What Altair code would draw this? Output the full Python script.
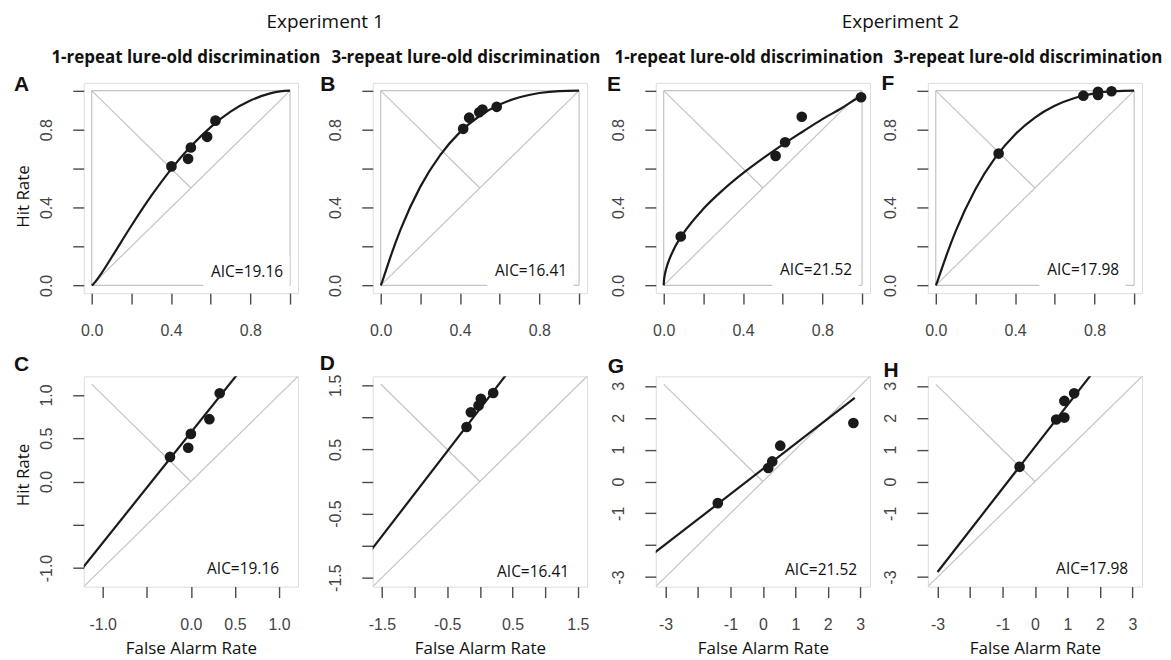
import altair as alt
import pandas as pd

# ---------------- data ----------------
# Top row: ROC in probability space (False Alarm Rate, Hit Rate)
A_fa = [0.402, 0.486, 0.500, 0.582, 0.624]
A_hit = [0.611, 0.650, 0.708, 0.763, 0.846]
A_curve_fa = [0.0, 0.005, 0.01, 0.02, 0.05, 0.10, 0.20, 0.30, 0.40, 0.50, 0.60, 0.70, 0.80, 0.90, 0.95, 1.0]
A_curve_hit = [0.0, 0.003, 0.008, 0.020, 0.063, 0.143, 0.306, 0.459, 0.596, 0.714, 0.813, 0.892, 0.949, 0.986, 0.996, 1.0]

B_fa = [0.416, 0.446, 0.497, 0.513, 0.585]
B_hit = [0.804, 0.861, 0.889, 0.903, 0.917]
B_curve_fa = [0.0, 0.001, 0.005, 0.01, 0.02, 0.05, 0.10, 0.20, 0.30, 0.40, 0.50, 0.60, 0.70, 0.80, 0.90, 1.0]
B_curve_hit = [0.0, 0.0015, 0.011, 0.026, 0.056, 0.148, 0.286, 0.507, 0.669, 0.787, 0.871, 0.929, 0.966, 0.988, 0.998, 1.0]

E_fa = [0.086, 0.564, 0.612, 0.696, 0.995]
E_hit = [0.251, 0.665, 0.735, 0.866, 0.966]
E_curve_fa = [0.0, 0.001, 0.005, 0.01, 0.02, 0.05, 0.10, 0.20, 0.30, 0.40, 0.50, 0.60, 0.70, 0.80, 0.90, 0.95, 0.998]
E_curve_hit = [0.0, 0.020, 0.051, 0.075, 0.110, 0.183, 0.268, 0.393, 0.491, 0.576, 0.652, 0.723, 0.789, 0.854, 0.912, 0.945, 0.975]

F_fa = [0.317, 0.744, 0.818, 0.818, 0.886]
F_hit = [0.677, 0.974, 0.978, 0.994, 0.997]
F_curve_fa = [0.0, 0.001, 0.005, 0.01, 0.02, 0.05, 0.10, 0.20, 0.30, 0.40, 0.50, 0.60, 0.70, 0.80, 0.90, 1.0]
F_curve_hit = [0.0, 0.0015, 0.011, 0.025, 0.055, 0.143, 0.277, 0.494, 0.656, 0.775, 0.862, 0.922, 0.962, 0.986, 0.997, 1.0]

# Bottom row: z-ROC
C_zfa = [-0.237, -0.030, 0.000, 0.210, 0.327]
C_zhit = [0.284, 0.390, 0.550, 0.720, 1.020]
C_line_zfa = [-1.40, 0.60]
C_line_zhit = [-1.219, 1.331]

D_zfa = [-0.204, -0.138, -0.020, 0.015, 0.204]
D_zhit = [0.850, 1.080, 1.185, 1.290, 1.380]
D_line_zfa = [-1.80, 0.50]
D_line_zhit = [-1.251, 1.794]

G_zfa = [-1.389, 0.165, 0.288, 0.535, 2.788]
G_zhit = [-0.680, 0.423, 0.629, 1.124, 1.835]
G_line_zfa = [-3.50, 2.83]
G_line_zhit = [-2.367, 2.621]

H_zfa = [-0.473, 0.655, 0.906, 0.906, 1.208]
H_zhit = [0.461, 1.946, 2.006, 2.528, 2.768]
H_line_zfa = [-3.00, 1.90]
H_line_zhit = [-2.840, 3.574]

AIC = {"A": "AIC=19.16", "B": "AIC=16.41", "E": "AIC=21.52", "F": "AIC=17.98",
       "C": "AIC=19.16", "D": "AIC=16.41", "G": "AIC=21.52", "H": "AIC=17.98"}

panel_titles = ["1-repeat lure-old discrimination", "3-repeat lure-old discrimination"]
experiment_titles = ["Experiment 1", "Experiment 2"]

top_ticks = [0.0, 0.2, 0.4, 0.6, 0.8, 1.0]
top_labels = [0.0, 0.4, 0.8]
C_ticks = [-1.0, -0.5, 0.0, 0.5, 1.0]
C_labels = [-1.0, 0.0, 0.5, 1.0]
D_ticks = [-1.5, -1.0, -0.5, 0.0, 0.5, 1.0, 1.5]
D_labels = [-1.5, -0.5, 0.5, 1.5]
GH_ticks = [-3, -2, -1, 0, 1, 2, 3]
GH_labels = [-3, -1, 0, 1, 2, 3]

# ---------------- styling ----------------
W, H = 215, 211
INK = "#1a1a1a"
REF = "#c4c4c4"
TXT_FONT = "Open Sans"
NUM_FONT = "Liberation Sans"


def axis(ticks, shown, fmt, orient, title=None, title_dy=0):
    expr = ("indexof(%s, datum.value) >= 0 ? replace(format(datum.value, '%s'), '\u2212', '-') : ''"
            % (str(list(shown)), fmt))
    kw = dict(values=list(ticks), labelExpr=expr, domain=False, grid=False,
              tickColor="#4a4a4a", tickSize=11, tickWidth=1.4,
              labelFont=NUM_FONT, labelFontSize=16, labelColor="#444",
              labelFlush=False, labelOverlap=False)
    if orient == "left":
        kw.update(labelAngle=270, labelAlign="center", labelBaseline="bottom", labelPadding=18)
    else:
        kw.update(labelPadding=19)
    if title:
        kw.update(title=title, titleFont=TXT_FONT, titleFontSize=17, titleFontWeight="normal",
                  titleColor="#111")
        if orient == "left":
            kw.update(titleX=-60, titleY=H / 2 + title_dy, titleAlign="center", titleBaseline="middle",
                      titleAngle=270)
        else:
            kw.update(titleX=W / 2, titleY=67, titleAlign="center", titleBaseline="alphabetic")
    else:
        kw.update(title=None)
    return alt.Axis(**kw)


def panel(letter, px, py, cx, cy, lo, hi, segs, xticks, xlab, yticks, ylab, fmt,
          letter_pos, aic_off, ytitle=None, ytitle_dy=0, xtitle=None, title=None, title_dx=0,
          clip_line=False, interp="linear"):
    xa = axis(xticks, xlab, fmt, "bottom", xtitle)
    ya = axis(yticks, ylab, fmt, "left", ytitle, title_dy=ytitle_dy)
    xs = alt.Scale(domain=[lo, hi], nice=False, zero=False)
    ys = alt.Scale(domain=[lo, hi], nice=False, zero=False)

    seg_df = pd.DataFrame(segs, columns=["x", "y", "x2", "y2"])
    ref = alt.Chart(seg_df).mark_rule(color=REF, strokeWidth=1.2, clip=True).encode(
        x=alt.X("x:Q", scale=xs, axis=xa), y=alt.Y("y:Q", scale=ys, axis=ya),
        x2="x2:Q", y2="y2:Q")

    dx, dy = aic_off
    box = alt.Chart(pd.DataFrame({"k": [0]})).mark_rect(color="white").encode(
        x=alt.value(W - dx - 80), x2=alt.value(W - dx + 6.5),
        y=alt.value(H - dy - 22), y2=alt.value(H - 3))

    curve_df = pd.DataFrame({"x": cx, "y": cy, "o": list(range(len(cx)))})
    curve = alt.Chart(curve_df).mark_line(color=INK, strokeWidth=2.2, clip=clip_line,
                                          interpolate=interp).encode(
        x=alt.X("x:Q", scale=xs, axis=xa), y=alt.Y("y:Q", scale=ys, axis=ya), order="o:Q")

    pts = alt.Chart(pd.DataFrame({"x": px, "y": py})).mark_circle(
        color=INK, opacity=1, size=115).encode(
        x=alt.X("x:Q", scale=xs, axis=xa), y=alt.Y("y:Q", scale=ys, axis=ya))

    aic = alt.Chart(pd.DataFrame({"t": [AIC[letter]]})).mark_text(
        font=TXT_FONT, fontSize=15.5, color="#111", align="right", baseline="alphabetic").encode(
        text="t:N", x=alt.value(W - dx), y=alt.value(H - dy))

    lab = alt.Chart(pd.DataFrame({"t": [letter]})).mark_text(
        font=NUM_FONT, fontSize=21, fontWeight="bold", color="#111", align="center",
        baseline="alphabetic").encode(
        text="t:N", x=alt.value(letter_pos[0]), y=alt.value(letter_pos[1]))

    layers = [ref, box, curve, pts, aic, lab]
    if title:
        ttl = alt.Chart(pd.DataFrame({"t": [title]})).mark_text(
            font=TXT_FONT, fontSize=17, fontWeight="bold", color="#111", align="center",
            baseline="alphabetic").encode(
            text="t:N", x=alt.value(W / 2 + title_dx), y=alt.value(-20.3))
        layers.append(ttl)
    return alt.layer(*layers).properties(width=W, height=H)


def spacer(w, title=None, dx=0):
    props = dict(width=w, height=H, view=alt.ViewBackground(stroke="transparent"))
    if title:
        return alt.Chart(pd.DataFrame({"t": [title]})).mark_text(
            font=TXT_FONT, fontSize=19, fontWeight="normal", color="#111", align="center",
            baseline="alphabetic").encode(
            text="t:N", x=alt.value(w / 2 + dx), y=alt.value(-55.3)).properties(**props)
    return alt.Chart(pd.DataFrame({"k": [0]})).mark_point(opacity=0).encode(
        x=alt.value(0), y=alt.value(0)).properties(**props)


def top_segs():
    return [[0, 0, 1, 1], [0, 1, 0.5, 0.5], [0, 0, 1, 0], [1, 0, 1, 1], [1, 1, 0, 1], [0, 1, 0, 0]]


def z_segs(lim, L):
    return [[-lim, -lim, lim, lim], [-L, L, 0, 0]]


TLO, THI = -0.04, 1.04

pA = panel("A", A_fa, A_hit, A_curve_fa, A_curve_hit, TLO, THI, top_segs(),
           top_ticks, top_labels, top_ticks, top_labels, ".1f", (-62.5, 8), (15, 16),
           ytitle="Hit Rate", ytitle_dy=8, title=panel_titles[0], title_dx=-5, interp="monotone")
pB = panel("B", B_fa, B_hit, B_curve_fa, B_curve_hit, TLO, THI, top_segs(),
           top_ticks, top_labels, top_ticks, top_labels, ".1f", (-45, 7.8), (20, 17),
           title=panel_titles[1], title_dx=-14, interp="monotone")
pE = panel("E", E_fa, E_hit, E_curve_fa, E_curve_hit, TLO, THI, top_segs(),
           top_ticks, top_labels, top_ticks, top_labels, ".1f", (-42, 7.7), (18, 18),
           title=panel_titles[0], title_dx=-14, interp="monotone")
pF = panel("F", F_fa, F_hit, F_curve_fa, F_curve_hit, TLO, THI, top_segs(),
           top_ticks, top_labels, top_ticks, top_labels, ".1f", (-40, 7.3), (23, 18),
           title=panel_titles[1], title_dx=-7, interp="monotone")

pC = panel("C", C_zfa, C_zhit, C_line_zfa, C_line_zhit, -1.215, 1.215, z_segs(1.215, 1.125),
           C_ticks, C_labels, C_ticks, C_labels, ".1f", (-62.4, -5.5), (19, 13),
           ytitle="Hit Rate", ytitle_dy=-7, xtitle="False Alarm Rate", clip_line=True)
pD = panel("D", D_zfa, D_zhit, D_line_zfa, D_line_zhit, -1.64, 1.64, z_segs(1.64, 1.52),
           D_ticks, D_labels, D_ticks, D_labels, ".1f", (-45.5, -6.8), (18, 10),
           xtitle="False Alarm Rate", clip_line=True)
pG = panel("G", G_zfa, G_zhit, G_line_zfa, G_line_zhit, -3.3, 3.3, z_segs(3.3, 3.05),
           GH_ticks, GH_labels, GH_ticks, GH_labels, "d", (-40, -3.5), (13, 12),
           xtitle="False Alarm Rate", clip_line=True)
pH = panel("H", H_zfa, H_zhit, H_line_zfa, H_line_zhit, -3.3, 3.3, z_segs(3.3, 3.05),
           GH_ticks, GH_labels, GH_ticks, GH_labels, "d", (-37, 0.9), (14, 13),
           xtitle="False Alarm Rate", clip_line=True)

GAP1, GAP2, GAP3 = 74.5, 69, 58

chart = alt.concat(
    pA, spacer(GAP1, experiment_titles[0], -10), pB, spacer(GAP2), pE,
    spacer(GAP3, experiment_titles[1], 1.5), pF,
    pC, spacer(GAP1), pD, spacer(GAP2), pG, spacer(GAP3), pH,
    columns=7, spacing={"row": 83.5, "column": 0}, bounds="flush", align="each",
).properties(
    padding={"left": 5, "top": 3, "right": 0, "bottom": 0}
).configure_view(stroke="#4a4a4a", strokeWidth=1.8).configure(background="white")

chart.save("out.html", embed_options={"renderer": "svg", "actions": False})
